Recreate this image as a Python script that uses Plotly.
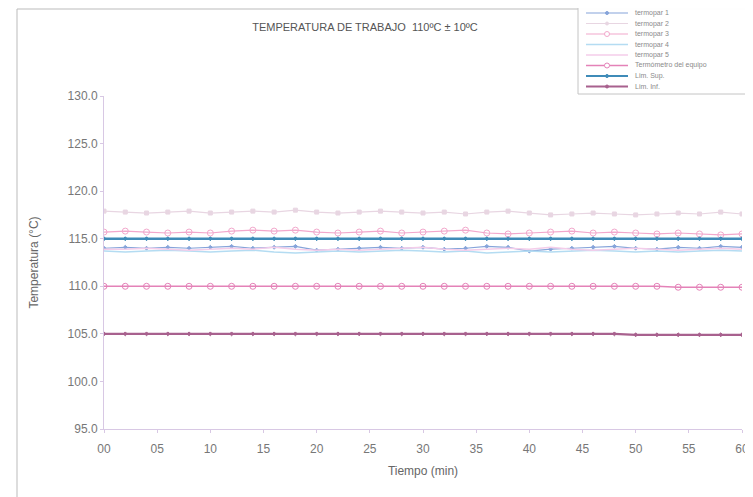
import plotly.graph_objects as go

tiempo = list(range(0, 61, 2))
tick_vals = [0, 5, 10, 15, 20, 25, 30, 35, 40, 45, 50, 55, 60]
tick_text = ["00", "05", "10", "15", "20", "25", "30", "35", "40", "45", "50", "55", "60"]

termopar_1 = [114.0, 114.1, 114.0, 114.1, 114.0, 114.1, 114.2, 114.0, 114.1, 114.2, 113.8,
              113.9, 114.0, 114.1, 114.0, 114.1, 113.9, 114.0, 114.2, 114.1, 113.7, 113.9,
              114.0, 114.1, 114.2, 114.0, 113.9, 114.1, 114.0, 114.2, 114.1]
termopar_2 = [117.9, 117.8, 117.7, 117.8, 117.9, 117.7, 117.8, 117.9, 117.8, 118.0, 117.8,
              117.7, 117.8, 117.9, 117.8, 117.7, 117.8, 117.6, 117.8, 117.9, 117.7, 117.5,
              117.6, 117.7, 117.6, 117.5, 117.6, 117.7, 117.6, 117.8, 117.6]
termopar_3 = [115.7, 115.8, 115.7, 115.6, 115.7, 115.6, 115.8, 115.9, 115.8, 115.9, 115.7,
              115.6, 115.7, 115.8, 115.6, 115.7, 115.8, 115.9, 115.6, 115.5, 115.6, 115.7,
              115.8, 115.6, 115.7, 115.6, 115.5, 115.6, 115.5, 115.4, 115.5]
termopar_4 = [113.7, 113.6, 113.7, 113.8, 113.7, 113.6, 113.7, 113.8, 113.6, 113.5, 113.6,
              113.7, 113.6, 113.7, 113.8, 113.7, 113.6, 113.7, 113.5, 113.6, 113.7, 113.6,
              113.7, 113.8, 113.7, 113.6, 113.7, 113.6, 113.7, 113.8, 113.7]
termopar_5 = [113.9, 113.9, 114.0, 113.9, 113.8, 113.9, 114.0, 113.9, 114.1, 113.9, 113.8,
              113.9, 113.8, 113.9, 114.0, 114.1, 113.9, 113.8, 113.9, 114.0, 113.9, 114.1,
              113.9, 113.8, 113.9, 114.0, 113.9, 113.8, 113.9, 114.0, 113.9]
termometro = [110.0, 110.0, 110.0, 110.0, 110.0, 110.0, 110.0, 110.0, 110.0, 110.0, 110.0,
              110.0, 110.0, 110.0, 110.0, 110.0, 110.0, 110.0, 110.0, 110.0, 110.0, 110.0,
              110.0, 110.0, 110.0, 110.0, 110.0, 109.9, 109.9, 109.9, 109.9]
lim_sup = [115.0] * 31
lim_inf = [105.0, 105.0, 105.0, 105.0, 105.0, 105.0, 105.0, 105.0, 105.0, 105.0, 105.0,
           105.0, 105.0, 105.0, 105.0, 105.0, 105.0, 105.0, 105.0, 105.0, 105.0, 105.0,
           105.0, 105.0, 105.0, 104.9, 104.9, 104.9, 104.9, 104.9, 104.9]

series = [
    ("termopar 1", termopar_1, "#86a4da", 1.2, "diamond", 3),
    ("termopar 2", termopar_2, "#e8d6e2", 1.2, "square", 4),
    ("termopar 3", termopar_3, "#f2a8cc", 1.2, "circle-open", 6),
    ("termopar 4", termopar_4, "#b4dcf2", 1.5, None, 0),
    ("termopar 5", termopar_5, "#f4cdea", 1.5, None, 0),
    ("Termómetro del equipo", termometro, "#e482b8", 1.6, "circle-open", 6),
    ("Lim. Sup.", lim_sup, "#3f8bb8", 2.5, "diamond", 3),
    ("Lim. Inf.", lim_inf, "#a8618e", 2.2, "diamond", 3),
]

fig = go.Figure()
for name, vals, color, width, sym, size in series:
    if sym:
        fig.add_trace(go.Scatter(x=tiempo, y=vals, name=name, mode="lines+markers",
                                 line=dict(color=color, width=width),
                                 marker=dict(symbol=sym, size=size, color=color,
                                             line=dict(color=color, width=1))))
    else:
        fig.add_trace(go.Scatter(x=tiempo, y=vals, name=name, mode="lines",
                                 line=dict(color=color, width=width)))

# page body has an 8px margin: figure coordinates = screen coordinates - 8
OFF = 8
W, H = 753 - OFF, 497 - OFF
L, R, T, B = 104 - OFF, 11, 96 - OFF, 68
pw, ph = W - L - R, H - T - B

def px(xs):
    return (xs - OFF - L) / pw

def py(ys):
    return (H - B - (ys - OFF)) / ph

shapes = [
    dict(type="line", xref="paper", yref="paper", x0=px(17), x1=px(17), y0=py(9), y1=py(497),
         line=dict(color="#bbbbbb", width=1)),
    dict(type="line", xref="paper", yref="paper", x0=px(17), x1=px(753), y0=py(9), y1=py(9),
         line=dict(color="#bbbbbb", width=1)),
    dict(type="rect", xref="paper", yref="paper", x0=px(578), x1=px(752), y0=py(6), y1=py(94),
         line=dict(color="#c4c4c4", width=1), fillcolor="rgba(255,255,255,0.95)"),
]
annotations = []
for i, (name, vals, color, width, sym, size) in enumerate(series):
    yy = 13 + 10.5 * i
    shapes.append(dict(type="line", xref="paper", yref="paper", x0=px(586), x1=px(628),
                       y0=py(yy), y1=py(yy), line=dict(color=color, width=min(width, 1.8))))
    if sym:
        r = 2.5 if "circle" in sym else 1.5
        shapes.append(dict(type="circle", xref="paper", yref="paper",
                           x0=px(607 - r), x1=px(607 + r), y0=py(yy - r), y1=py(yy + r),
                           line=dict(color=color, width=1),
                           fillcolor="white" if "open" in sym else color))
    annotations.append(dict(text=name, xref="paper", yref="paper", x=px(633), y=py(yy),
                            xanchor="left", yanchor="middle", showarrow=False,
                            font=dict(size=7, color="#8a8a8a")))

fig.update_layout(
    width=W, height=H,
    margin=dict(l=L, r=R, t=T, b=B),
    paper_bgcolor="white", plot_bgcolor="white",
    font=dict(family="Liberation Sans, Arial, sans-serif", color="#666666"),
    title=dict(text="TEMPERATURA DE TRABAJO  110ºC ± 10ºC", x=(365 - OFF) / W, xanchor="center",
               y=1 - (27 - OFF) / H, yanchor="middle", font=dict(size=11, color="#555555")),
    showlegend=False,
    xaxis=dict(range=[0, 60], tickvals=tick_vals, ticktext=tick_text, showgrid=False,
               zeroline=False, showline=True, linecolor="#d8c8e4", linewidth=1,
               ticks="outside", ticklen=3, tickcolor="#d8c8e4", automargin=False,
               ticklabelstandoff=6,
               tickfont=dict(size=12, color="#777777"),
               title=dict(text="Tiempo (min)", font=dict(size=12, color="#666666"), standoff=11)),
    yaxis=dict(range=[95, 130], dtick=5, tickformat=".1f", showgrid=False, zeroline=False,
               showline=True, linecolor="#d8c8e4", linewidth=1, ticks="outside", ticklen=3,
               tickcolor="#d8c8e4", automargin=False,
               tickfont=dict(size=12, color="#777777"),
               title=dict(text="Temperatura (°C)", font=dict(size=12, color="#666666"), standoff=26)),
    shapes=shapes,
    annotations=annotations,
)

fig.write_html("out.html")
